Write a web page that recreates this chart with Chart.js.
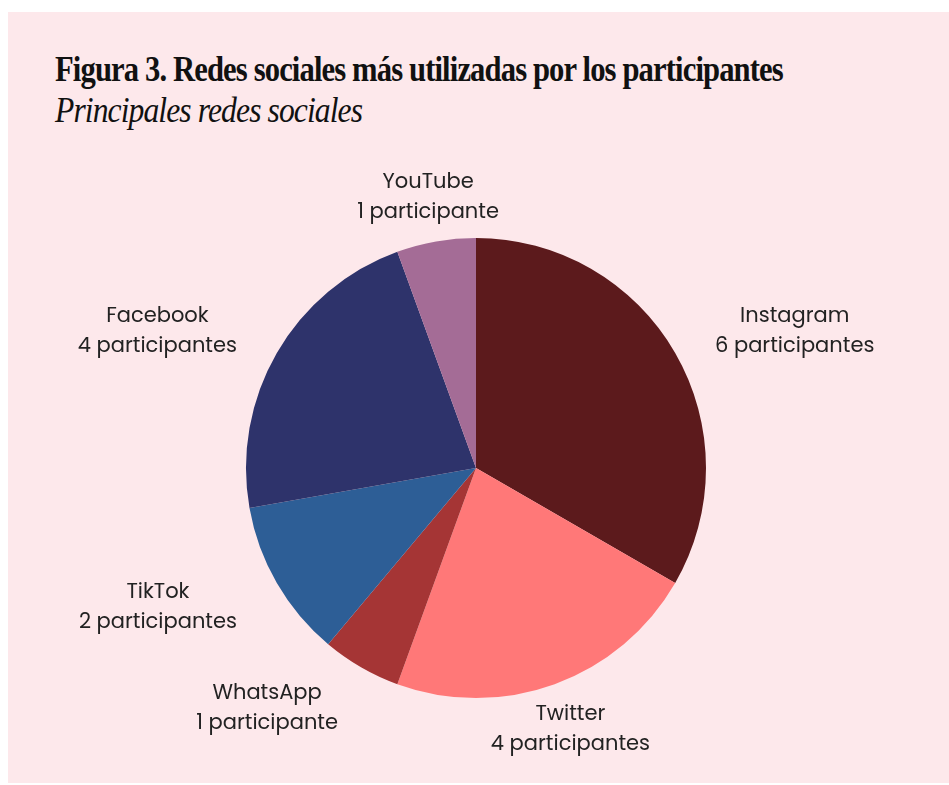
<!DOCTYPE html>
<html>
<head>
<meta charset="utf-8">
<script src="https://cdn.jsdelivr.net/npm/chart.js@4"></script>
<style>
  body { margin: 0; background: #fff; width: 949px; height: 785px; overflow: hidden; position: relative; }
  #panel { position: absolute; left: 8px; top: 12px; width: 941px; height: 771px; background: #fde8eb; }
  .ttl { position: absolute; left: 55px; white-space: nowrap; color: #111; font-family: "Liberation Serif", "DejaVu Serif", serif; transform-origin: left top; }
  #title { top: 50px; font-size: 35px; font-weight: bold; letter-spacing: -1px; }
  #subtitle { top: 91px; font-size: 35px; font-style: italic; letter-spacing: -1px; }
  #wrap { position: absolute; left: 0; top: 0; width: 949px; height: 785px; }
</style>
</head>
<body>
<div id="panel"></div>
<div id="title" class="ttl">Figura 3. Redes sociales más utilizadas por los participantes</div>
<div id="subtitle" class="ttl">Principales redes sociales</div>
<div id="wrap"><canvas id="grafica"></canvas></div>
<script>
const redes = ["Instagram", "Twitter", "WhatsApp", "TikTok", "Facebook", "YouTube"];
const participantes = [6, 4, 1, 2, 4, 1];
const colores = ["#5c1a1c", "#ff7878", "#a53535", "#2d5e96", "#2e336b", "#a46c96"];

// ajustar ancho de los titulos al original
const ajustar = (id, ancho) => {
  const el = document.getElementById(id);
  el.style.transform = "scaleX(" + (ancho / el.scrollWidth) + ")";
};
ajustar("title", 728);
ajustar("subtitle", 307);

const etiquetas = {
  id: "etiquetas",
  afterDraw(chart) {
    const ctx = chart.ctx;
    const meta = chart.getDatasetMeta(0);
    ctx.save();
    ctx.fillStyle = "#222";
    ctx.font = "21px Poppins, 'Open Sans', sans-serif";
    ctx.textBaseline = "middle";
    ctx.textAlign = "center";
    meta.data.forEach((arc, i) => {
      const mid = (arc.startAngle + arc.endAngle) / 2;
      const r = arc.outerRadius + 46;
      const ux = Math.cos(mid), uy = Math.sin(mid);
      const v = participantes[i];
      const lineas = [redes[i], v + (v > 1 ? " participantes" : " participante")];
      const ancho = Math.max(...lineas.map(t => ctx.measureText(t).width));
      let x = arc.x + ux * r;
      const y = arc.y + uy * r + 2;
      if (ux > 0.45) x += ancho / 2;
      else if (ux < -0.45) x -= ancho / 2;
      ctx.fillText(lineas[0], x, y - 15);
      ctx.fillText(lineas[1], x, y + 15);
    });
    ctx.restore();
  }
};

const ctx = document.getElementById("grafica");
const myChart = new Chart(ctx, {
  type: "pie",
  data: {
    labels: redes,
    datasets: [{
      data: participantes,
      backgroundColor: colores,
      borderWidth: 0,
    }],
  },
  options: {
    responsive: true,
    maintainAspectRatio: false,
    animation: false,
    layout: { padding: { left: 246, right: 243, top: 238, bottom: 87 } },
    plugins: {
      legend: { display: false },
      tooltip: { enabled: false },
    },
  },
  plugins: [etiquetas],
});
</script>
</body>
</html>
